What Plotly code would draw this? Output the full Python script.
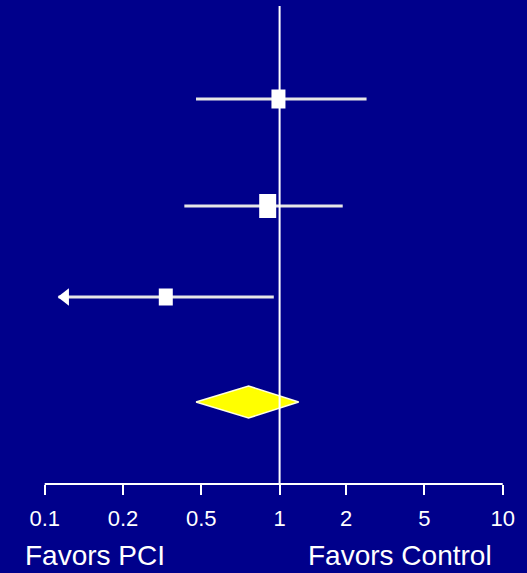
import numpy as np
import plotly.graph_objects as go

# ---- data ----
tick_or = [0.1, 0.2, 0.5, 1, 2, 5, 10]
tick_labels = ["0.1", "0.2", "0.5", "1", "2", "5", "10"]
studies = ["Study 1", "Study 2", "Study 3"]
or_est = [0.99, 0.90, 0.33]
ci_low = [0.47, 0.41, 0.113]
ci_high = [2.54, 1.93, 0.95]
low_truncated = [False, False, True]
pooled_est = 0.76
pooled_low = 0.47
pooled_high = 1.22

# ---- layout helpers (axis is drawn with roughly equal spacing between ticks) ----
tick_pos = [0, 1, 2, 3, 3.85, 4.85, 5.85]
row_y = [99, 206, 297]
pooled_y = 402
box_w = [14, 17, 14]
box_h = [19, 24, 17]

def ax(v):
    return np.interp(np.log10(np.asarray(v, dtype=float)), np.log10(tick_or), tick_pos)

BG = "#00008B"
LINE = "#E6E6E6"
FONT = "Liberation Sans, Arial, sans-serif"
W, H = 527, 573
B = 89

fig = go.Figure()

# CI lines
for i in range(len(studies)):
    fig.add_trace(go.Scatter(
        x=ax([ci_low[i], ci_high[i]]), y=[row_y[i], row_y[i]],
        mode="lines", line=dict(color=LINE, width=3),
        hoverinfo="skip", showlegend=False))
    if low_truncated[i]:
        fig.add_trace(go.Scatter(
            x=[ax(ci_low[i]) + 0.085], y=[row_y[i]], mode="markers",
            marker=dict(symbol="triangle-left", size=15, color="white",
                        line=dict(width=0)),
            hoverinfo="skip", showlegend=False))

# pooled diamond
fig.add_trace(go.Scatter(
    x=ax([pooled_low, pooled_est, pooled_high, pooled_est, pooled_low]),
    y=[pooled_y, pooled_y - 16, pooled_y, pooled_y + 16, pooled_y],
    mode="lines", fill="toself", fillcolor="#FFFF00",
    line=dict(color="#FFFFE0", width=1.5),
    hoverinfo="skip", showlegend=False))

shapes = []
shapes.append(dict(type="line", xref="x", yref="y", x0=float(ax(1)), x1=float(ax(1)),
                   y0=6, y1=484, line=dict(color="white", width=2)))
shapes.append(dict(type="line", xref="x", yref="paper", x0=tick_pos[0], x1=tick_pos[-1],
                   y0=0, y1=0, line=dict(color="white", width=2)))
for i in range(len(studies)):
    shapes.append(dict(type="rect", xref="x", yref="y",
                       xsizemode="pixel", ysizemode="pixel",
                       xanchor=float(ax(or_est[i])), yanchor=row_y[i],
                       x0=-box_w[i] / 2, x1=box_w[i] / 2,
                       y0=-box_h[i] / 2, y1=box_h[i] / 2,
                       fillcolor="white", line=dict(width=0)))

plot_h = H - B
captions = [("Favors PCI", 23, "left"), ("Favors Control", 494, "right")]
caps = []
for text, px, anchor in captions:
    caps.append(dict(text=text, xref="paper", yref="paper",
                     x=px / W, y=(plot_h - 555) / plot_h,
                     xanchor=anchor, yanchor="middle", showarrow=False,
                     font=dict(family=FONT, size=28, color="white")))

fig.update_layout(
    width=W, height=H,
    margin=dict(l=0, r=0, t=0, b=B),
    paper_bgcolor=BG, plot_bgcolor=BG,
    shapes=shapes, annotations=caps,
    xaxis=dict(range=[-0.571, 6.160], tickvals=tick_pos, ticktext=tick_labels,
               ticks="outside", ticklen=10, tickwidth=2, tickcolor="white",
               ticklabelstandoff=5,
               tickfont=dict(family=FONT, size=22, color="white"),
               showgrid=False, zeroline=False, showline=False, fixedrange=True),
    yaxis=dict(range=[484, 0], visible=False, showgrid=False, zeroline=False, fixedrange=True),
    font=dict(family=FONT, color="white"),
)

fig.write_html("out.html", config={"displayModeBar": False},
               post_script="document.body.style.margin='0px';document.body.style.overflow='hidden';document.body.style.background='" + BG + "';")
